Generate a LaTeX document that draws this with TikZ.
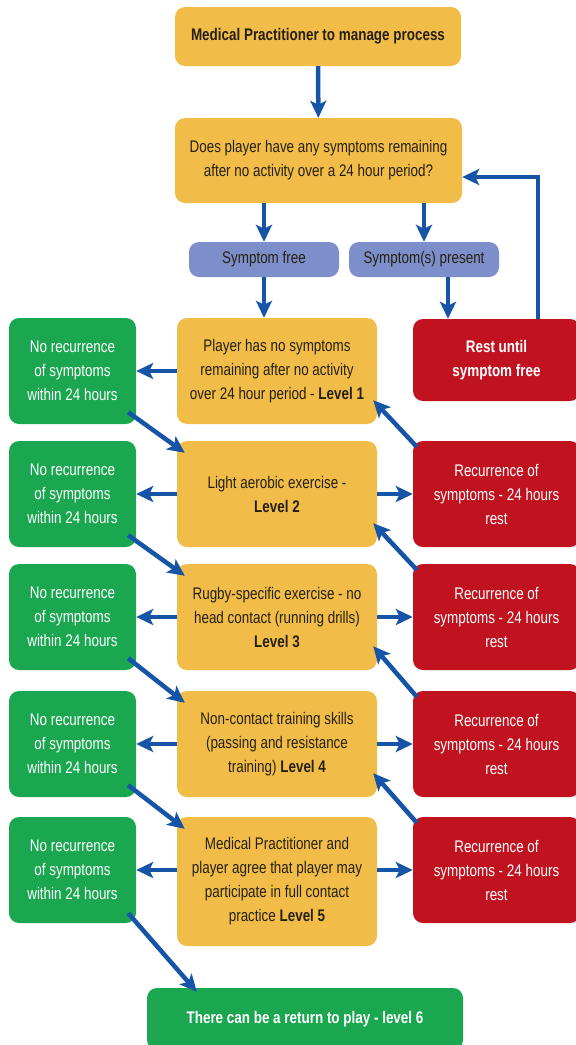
\documentclass[tikz,border=0pt]{standalone}
\usepackage{fontspec}
\setmainfont{Liberation Sans}[FakeStretch=0.80]
\usetikzlibrary{arrows.meta,calc}
\definecolor{boxorange}{RGB}{241,189,72}
\definecolor{boxgreen}{RGB}{26,167,80}
\definecolor{boxred}{RGB}{192,19,31}
\definecolor{boxblue}{RGB}{125,143,203}
\definecolor{arrowblue}{RGB}{21,84,166}
\definecolor{txtdark}{RGB}{38,32,18}
\begin{document}
\begin{tikzpicture}[
          bx/.style={rounded corners=10pt, inner sep=0pt, align=center, font=\fontsize{16.8}{24}\selectfont},
          ob/.style={bx, fill=boxorange, text=txtdark, minimum width=200pt, minimum height=106pt},
          gb/.style={bx, fill=boxgreen, text=white, minimum width=127pt, minimum height=106pt},
          rb/.style={bx, fill=boxred, text=white, minimum width=167pt, minimum height=106pt},
          lb/.style={bx, fill=boxblue, text=txtdark, minimum width=150pt, minimum height=35pt},
          arr/.style={-{Stealth[length=17pt, width=16pt, inset=4pt]}, line width=4.5pt, arrowblue},
          x=1pt,
          y=-1pt,
        ]
      \fill[white] (0,0) rectangle (576,1045);
      \useasboundingbox (0,0) rectangle (576,1045);
      \node[ob, minimum width=286pt, minimum height=59pt] (top) at (318,36.5) {\textbf{Medical Practitioner to manage process}};
      \node[ob, minimum width=287pt, minimum height=85pt] (q) at (318.5,160.5) {Does player have any symptoms remaining\\after no activity over a 24 hour period?};
      \node[lb] (sf) at (264,259.5) {Symptom free};
      \node[lb] (sp) at (424,259.5) {Symptom(s) present};
      \node[ob] (o1) at (277,371) {Player has no symptoms\\remaining after no activity\\over 24 hour period - \textbf{Level 1}};
      \node[ob] (o2) at (277,494) {Light aerobic exercise -\\\textbf{Level 2}};
      \node[ob] (o3) at (277,617) {Rugby-specific exercise - no\\head contact (running drills)\\\textbf{Level 3}};
      \node[ob] (o4) at (277,744) {Non-contact training skills\\(passing and resistance\\training) \textbf{Level 4}};
      \node[ob, minimum height=129pt] (o5) at (277,881.5) {Medical Practitioner and\\player agree that player may\\participate in full contact\\practice \textbf{Level 5}};
      \node[gb] (g1) at (72.5,371) {No recurrence\\of symptoms\\within 24 hours};
      \node[gb] (g2) at (72.5,494) {No recurrence\\of symptoms\\within 24 hours};
      \node[gb] (g3) at (72.5,617) {No recurrence\\of symptoms\\within 24 hours};
      \node[gb] (g4) at (72.5,744) {No recurrence\\of symptoms\\within 24 hours};
      \node[gb] (g5) at (72.5,870) {No recurrence\\of symptoms\\within 24 hours};
      \node[rb, minimum height=82pt] (rest) at (496.5,360) {\textbf{Rest until}\\\textbf{symptom free}};
      \node[rb] (r2) at (496.5,494) {Recurrence of\\symptoms - 24 hours\\rest};
      \node[rb] (r3) at (496.5,617) {Recurrence of\\symptoms - 24 hours\\rest};
      \node[rb] (r4) at (496.5,744) {Recurrence of\\symptoms - 24 hours\\rest};
      \node[rb] (r5) at (496.5,870) {Recurrence of\\symptoms - 24 hours\\rest};
      \node[gb, minimum width=316pt, minimum height=62pt] (fin) at (305,1019) {\textbf{There can be a return to play - level 6}};
      \draw[arr] (top) -- (q);
      \draw[arr] (sf.north |- q.south) -- (sf.north);
      \draw[arr] (sp.north |- q.south) -- (sp.north);
      \draw[arr] (sf.south) -- (sf.south |- o1.north);
      \draw[arr] ([xshift=24pt]sp.south) -- ([xshift=24pt]sp.south |- rest.north);
      \draw[arr] ([xshift=41.5pt]rest.north) |- ([yshift=-16.5pt]q.east);
      \draw[arr] (o1.west |- g1) -- (g1.east);
      \draw[arr] (o2.west |- g2) -- (g2.east);
      \draw[arr] (o3.west |- g3) -- (g3.east);
      \draw[arr] (o4.west |- g4) -- (g4.east);
      \draw[arr] (o5.west |- g5) -- (g5.east);
      \draw[arr] (o2.east |- r2) -- (r2.west);
      \draw[arr] (o3.east |- r3) -- (r3.west);
      \draw[arr] (o4.east |- r4) -- (r4.west);
      \draw[arr] (o5.east |- r5) -- (r5.west);
      \draw[arr] ($(g1.south east)+(-8,-12)$) -- ($(o2.north west)+(8,12)$);
      \draw[arr] ($(g2.south east)+(-8,-12)$) -- ($(o3.north west)+(8,12)$);
      \draw[arr] ($(g3.south east)+(-8,-12)$) -- ($(o4.north west)+(8,12)$);
      \draw[arr] ($(g4.south east)+(-8,-12)$) -- ($(o5.north west)+(8,12)$);
      \draw[arr] ($(g5.south east)+(-8,-10)$) -- ($(fin.north west)+(50,4)$);
      \draw[arr] ($(r2.north west)+(4,6)$) -- ($(o1.south east)+(-4,-24)$);
      \draw[arr] ($(r3.north west)+(4,6)$) -- ($(o2.south east)+(-4,-24)$);
      \draw[arr] ($(r4.north west)+(4,6)$) -- ($(o3.south east)+(-4,-24)$);
      \draw[arr] ($(r5.north west)+(4,6)$) -- ($(o4.south east)+(-4,-24)$);
    \end{tikzpicture}
\end{document}
